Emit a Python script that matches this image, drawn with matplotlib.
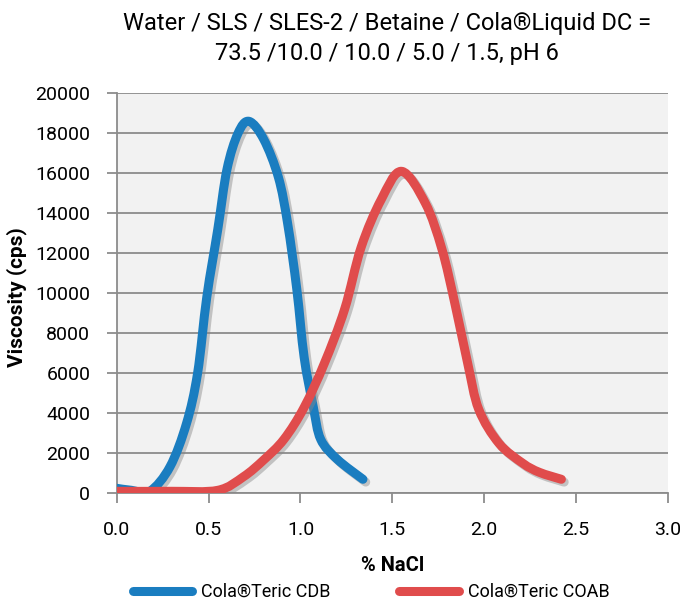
import matplotlib
matplotlib.use("Agg")
import matplotlib.pyplot as plt
import matplotlib.patheffects as pe
from matplotlib.path import Path
from matplotlib.patches import PathPatch
from matplotlib.lines import Line2D

plt.rcParams['font.family'] = ['Roboto', 'DejaVu Sans']

title = "Water / SLS / SLES-2 / Betaine / Cola\u00aeLiquid DC =\n73.5 /10.0 / 10.0 / 5.0 / 1.5, pH 6"
x_label = "% NaCl"
y_label = "Viscosity (cps)"
series_names = ["Cola\u00aeTeric CDB", "Cola\u00aeTeric COAB"]
colors = ["#1a7dc0", "#e04c4c"]

cdb_x = [0.0, 0.08, 0.18, 0.29, 0.38, 0.44, 0.49, 0.55, 0.60, 0.66, 0.72, 0.80, 0.88,
         0.93, 0.98, 1.02, 1.07, 1.11, 1.20, 1.34]
cdb_y = [250, 150, 100, 1330, 3500, 6000, 9800, 13200, 16200, 18000, 18600, 17700, 15800,
         13500, 10200, 6800, 4300, 2700, 1700, 700]

coab_x = [0.0, 0.3, 0.55, 0.69, 0.80, 0.91, 1.02, 1.13, 1.24, 1.33, 1.44, 1.55, 1.68,
          1.77, 1.84, 1.91, 1.97, 2.08, 2.21, 2.30, 2.42]
coab_y = [100, 100, 150, 830, 1670, 2700, 4300, 6500, 9200, 12300, 14700, 16100, 14500,
          12200, 9500, 6500, 4200, 2500, 1500, 1050, 700]


def smooth_path(xs, ys, tension=1 / 6):
    """Excel-style smoothed line: cubic Bezier segments through the data points."""
    verts = [(xs[0], ys[0])]
    codes = [Path.MOVETO]
    n = len(xs)
    for i in range(n - 1):
        x0, y0 = (xs[i - 1], ys[i - 1]) if i > 0 else (xs[i], ys[i])
        x1, y1 = xs[i], ys[i]
        x2, y2 = xs[i + 1], ys[i + 1]
        x3, y3 = (xs[i + 2], ys[i + 2]) if i + 2 < n else (x2, y2)
        c1 = (x1 + (x2 - x0) * tension, y1 + (y2 - y0) * tension)
        c2 = (x2 - (x3 - x1) * tension, y2 - (y3 - y1) * tension)
        verts += [c1, c2, (x2, y2)]
        codes += [Path.CURVE4] * 3
    return Path(verts, codes)


fig = plt.figure(figsize=(6.81, 6.10), dpi=100)
ax = fig.add_axes([0.1714, 0.1913, 0.8095, 0.6557])
ax.set_facecolor('#f2f2f2')

shadow = [pe.SimpleLineShadow(offset=(2, -2), shadow_color='#888888', alpha=0.45), pe.Normal()]
for i, (xs, ys) in enumerate([(cdb_x, cdb_y), (coab_x, coab_y)]):
    patch = PathPatch(smooth_path(xs, ys), facecolor='none', edgecolor=colors[i], lw=6.5,
                      joinstyle='round', capstyle='round', path_effects=shadow,
                      zorder=3 + i, transform=ax.transData)
    ax.add_patch(patch)

ax.set_xlim(0, 3.0)
ax.set_ylim(0, 20000)
ax.set_xticks([0, 0.5, 1.0, 1.5, 2.0, 2.5, 3.0])
ax.set_xticklabels(['0.0', '0.5', '1.0', '1.5', '2.0', '2.5', '3.0'])
ax.set_yticks(range(0, 20001, 2000))
ax.grid(axis='y', color='#8c8c8c', lw=1.3)
ax.set_axisbelow(True)
for s in ['top', 'right']:
    ax.spines[s].set_visible(False)
for s in ['left', 'bottom']:
    ax.spines[s].set_color('#8c8c8c')
    ax.spines[s].set_linewidth(1.3)
ax.tick_params(axis='both', colors='#8c8c8c', length=7, width=1.3, labelcolor='black',
               labelsize=14)
ax.tick_params(axis='x', pad=13)
ax.tick_params(axis='y', pad=12)

ax.set_xlabel(x_label, fontsize=14.5, fontweight='bold', labelpad=12)
ax.set_ylabel(y_label, fontsize=15, fontweight='bold', va='center')
ax.yaxis.set_label_coords(-0.182, 0.49)
fig.text(0.568, 0.937, title, ha='center', va='center', fontsize=17, linespacing=1.4)

handles = [Line2D([], [], color=c, lw=6.5, solid_capstyle='round') for c in colors]
fig.legend(handles, series_names, loc='lower center', bbox_to_anchor=(0.545, -0.012), ncol=2,
           frameon=False, fontsize=13, handlelength=3.3, columnspacing=3.8, handletextpad=0.5)

fig.savefig('out.png', dpi=100)
